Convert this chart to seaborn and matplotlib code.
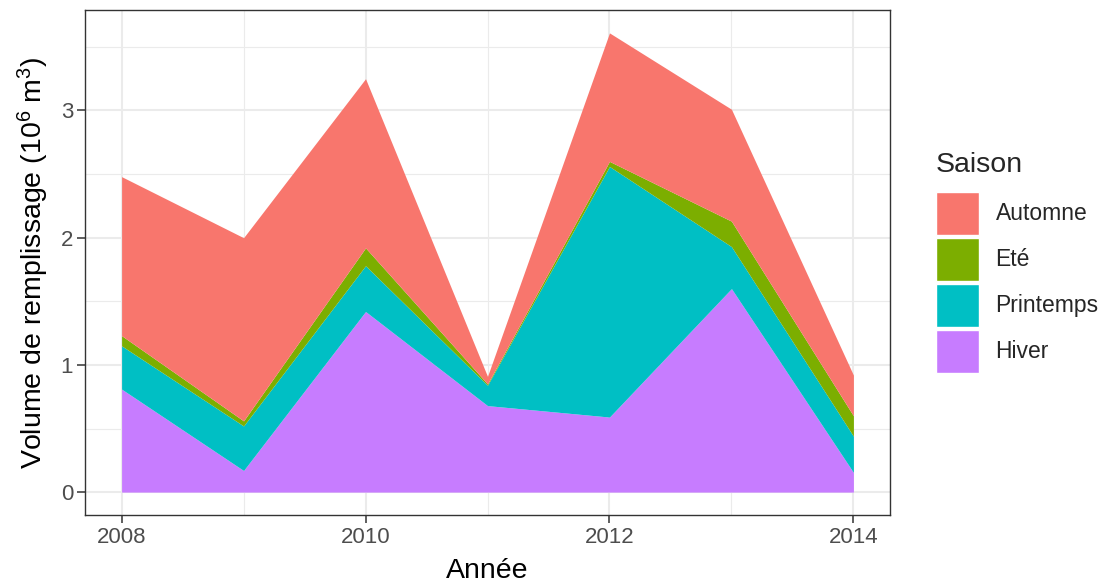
import matplotlib
matplotlib.use("Agg")
import matplotlib.pyplot as plt
import seaborn as sns
from matplotlib.patches import Patch
from matplotlib.ticker import MultipleLocator

# values (10^6 m3 per season)
annees = [2008, 2009, 2010, 2011, 2012, 2013, 2014]
hiver = [0.81, 0.17, 1.42, 0.68, 0.59, 1.60, 0.155]
printemps = [0.34, 0.35, 0.36, 0.16, 1.97, 0.33, 0.285]
ete = [0.08, 0.04, 0.14, 0.01, 0.04, 0.20, 0.16]
automne = [1.25, 1.44, 1.33, 0.06, 1.01, 0.88, 0.32]

saisons = ["Hiver", "Printemps", "Eté", "Automne"]
couleurs = ["#C77CFF", "#00BFC4", "#7CAE00", "#F8766D"]

sns.set_theme(style="whitegrid")
plt.rcParams['font.family'] = ['Liberation Sans', 'DejaVu Sans']
plt.rcParams['mathtext.fontset'] = 'custom'
plt.rcParams['mathtext.rm'] = 'Liberation Sans'
plt.rcParams['mathtext.it'] = 'Liberation Sans'

fig = plt.figure(figsize=(11.08, 5.82), dpi=100)
ax = fig.add_axes([85 / 1108, 1 - 515 / 582, 805 / 1108, 505 / 582])

ax.stackplot(annees, hiver, printemps, ete, automne, colors=couleurs,
             linewidth=0, zorder=3)

ax.set_xlim(2008 - 0.3, 2014 + 0.3)
ax.set_ylim(-0.18, 3.79)
ax.set_xticks([2008, 2010, 2012, 2014])
ax.xaxis.set_minor_locator(MultipleLocator(1))
ax.set_yticks([0, 1, 2, 3])
ax.yaxis.set_minor_locator(MultipleLocator(0.5))

ax.set_facecolor("white")
ax.grid(which="major", color="#EBEBEB", linewidth=1.5)
ax.grid(which="minor", color="#EBEBEB", linewidth=0.8)
ax.set_axisbelow(True)
for s in ax.spines.values():
    s.set_visible(True)
    s.set_color("#333333")
    s.set_linewidth(1.0)

ax.tick_params(axis="both", which="major", labelsize=16, colors="#333333",
               labelcolor="#4D4D4D", length=5.5, width=1.1, direction="out",
               bottom=True, left=True, pad=3)
ax.tick_params(axis="both", which="minor", length=0)

ax.set_xlabel("Année", fontsize=20.5, color="black", labelpad=7)
ax.set_ylabel("Volume de remplissage ($10^6$ m$^3$)", fontsize=20.5,
              color="black", labelpad=7)

handles = [Patch(facecolor=c, edgecolor="white", linewidth=1)
           for c in couleurs[::-1]]
leg = fig.legend(handles=handles, labels=saisons[::-1], title="Saison",
                 loc="upper left", bbox_to_anchor=(936 / 1108, 1 - 152 / 582),
                 frameon=False, fontsize=16.5, title_fontsize=20.5,
                 handlelength=1.88, handleheight=2.51, labelspacing=0.13,
                 handletextpad=0.72, borderpad=0, borderaxespad=0)
leg._legend_box.align = "left"
leg._legend_box.sep = 10

fig.savefig("out.png", dpi=100)
